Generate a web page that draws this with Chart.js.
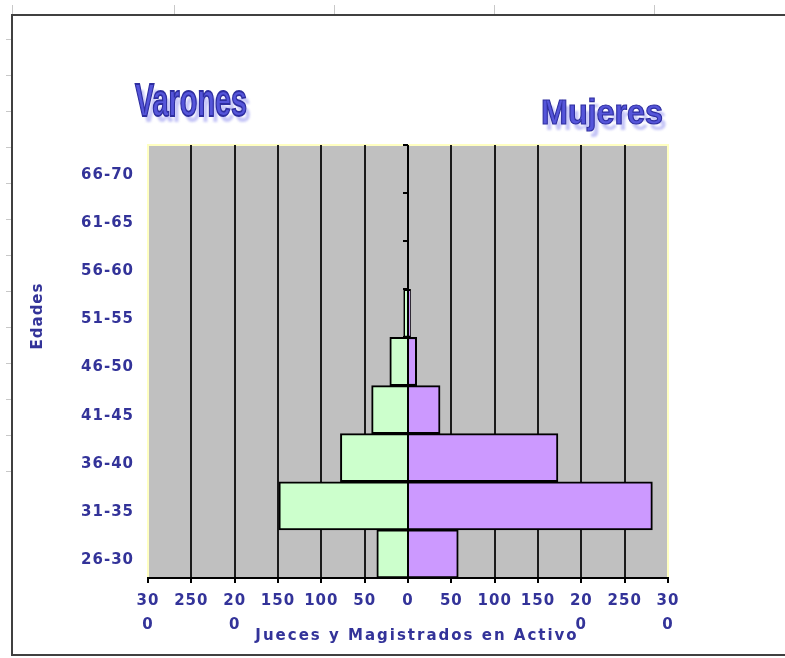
<!DOCTYPE html>
<html>
<head>
<meta charset="utf-8">
<script src="https://cdn.jsdelivr.net/npm/chart.js"></script>
<style>
body { margin: 0; background: #fff; }
</style>
</head>
<body>
<canvas id="grafica" width="785" height="658"></canvas>
<script>

// DATOS DE LA PIRÁMIDE

const edades = ['66-70','61-65','56-60','51-55','46-50','41-45','36-40','31-35','26-30'];

const varones = [0, 0, 0, 5, 21, 42, 78, 149, 36];

const mujeres = [0, 0, 0, 3, 10, 37, 173, 282, 58];

const etiquetasX = ['30\n0','250','20\n0','150','100','50','0','50','100','150','20\n0','250','30\n0'];


const azul = '#333399';
const letra = '"DejaVu Sans", Verdana, sans-serif';


// texto estirado para los rótulos Varones / Mujeres

function rotulo(ctx, texto, x, base, ancho, alto){

ctx.font = 'bold 100px "Liberation Sans Narrow", "Liberation Sans", Arial, sans-serif';
ctx.letterSpacing = '0px';

const m = ctx.measureText(texto);
const sx = ancho / m.width;
const sy = alto / m.actualBoundingBoxAscent;

// sombra
ctx.save();
ctx.filter = 'blur(0.8px)';
ctx.translate(x + 4, base + 6);
ctx.scale(sx, sy);
ctx.fillStyle = 'rgba(150,150,240,0.55)';
ctx.fillText(texto, 0, 0);
ctx.restore();

// texto principal
ctx.save();
ctx.translate(x, base);
ctx.scale(sx, sy);
ctx.fillStyle = '#5555da';
ctx.fillText(texto, 0, 0);
ctx.lineWidth = 1.1 / Math.min(sx, sy);
ctx.strokeStyle = '#2e2ea0';
ctx.strokeText(texto, 0, 0);
ctx.restore();

}


// MARCO, FONDO Y TÍTULOS

const marco = {

id: 'marco',

beforeDraw(chart){

const ctx = chart.ctx;
const a = chart.chartArea;

ctx.save();

ctx.fillStyle = '#fff';
ctx.fillRect(0, 0, chart.width, chart.height);

// marcas de la hoja
ctx.strokeStyle = '#c8c8c8';
ctx.lineWidth = 1;
ctx.beginPath();
[12, 174, 334, 494, 654].forEach(x => { ctx.moveTo(x + 0.5, 5); ctx.lineTo(x + 0.5, 15); });
for (let y = 39; y <= 471; y += 36) { ctx.moveTo(6, y + 0.5); ctx.lineTo(12, y + 0.5); }
ctx.stroke();

// borde exterior
ctx.strokeStyle = '#404040';
ctx.lineWidth = 2;
ctx.beginPath();
ctx.moveTo(chart.width, 15);
ctx.lineTo(12, 15);
ctx.lineTo(12, 655);
ctx.lineTo(chart.width, 655);
ctx.stroke();

// área de trazado
ctx.fillStyle = '#c0c0c0';
ctx.fillRect(a.left, a.top, a.right - a.left, a.bottom - a.top);
ctx.strokeStyle = '#ffffc0';
ctx.lineWidth = 2;
ctx.strokeRect(a.left, a.top, a.right - a.left, a.bottom - a.top);

ctx.restore();

// letra algo más espaciada para las etiquetas de los ejes
ctx.letterSpacing = '1px';

},

afterDatasetsDraw(chart){

const ctx = chart.ctx;
const a = chart.chartArea;
const x0 = chart.scales.x.getPixelForValue(0);
const paso = (a.bottom - a.top) / edades.length;

ctx.save();
ctx.strokeStyle = '#000';
ctx.lineWidth = 2;
ctx.beginPath();
ctx.moveTo(x0, a.top);
ctx.lineTo(x0, a.bottom);
for (let i = 0; i <= edades.length; i++) {
const y = Math.round(a.top + i * paso);
ctx.moveTo(x0 - 5, y);
ctx.lineTo(x0, y);
}
ctx.stroke();
ctx.restore();

},

afterDraw(chart){

const ctx = chart.ctx;

ctx.save();

rotulo(ctx, 'Varones', 135, 116, 112, 32);
rotulo(ctx, 'Mujeres', 541, 124, 122, 26);

ctx.fillStyle = azul;
ctx.font = 'bold 15px ' + letra;
ctx.letterSpacing = '2px';
ctx.textAlign = 'center';
ctx.textBaseline = 'alphabetic';
ctx.fillText('Jueces y Magistrados en Activo', 417, 640);

ctx.letterSpacing = '1px';
ctx.translate(42, 316);
ctx.rotate(-Math.PI / 2);
ctx.fillText('Edades', 0, 0);

ctx.restore();
ctx.letterSpacing = '0px';

}

};


// GRÁFICA

const ctx = document.getElementById('grafica');

new Chart(ctx, {

type: 'bar',

data: {

labels: edades,

datasets: [

{
label: 'Varones',
data: varones.map(v => -v),
backgroundColor: '#ccffcc',
borderColor: '#000',
borderWidth: 2
},

{
label: 'Mujeres',
data: mujeres,
backgroundColor: '#cc99ff',
borderColor: '#000',
borderWidth: 2
}

]

},

options: {

indexAxis: 'y',
responsive: false,
animation: false,
barPercentage: 1,
categoryPercentage: 1,

layout: {
padding: { top: 145, right: 117, bottom: 0, left: 0 }
},

plugins: {
legend: { display: false },
tooltip: { enabled: false }
},

scales: {

x: {
stacked: true,
min: -300,
max: 300,
afterFit: s => { s.height = 80; },
afterBuildTicks: s => { s.ticks = etiquetasX.map((t, i) => ({ value: -300 + i * 50 })); },
ticks: {
autoSkip: false,
maxRotation: 0,
padding: 6,
color: azul,
font: { family: letra, size: 15, weight: 'bold', lineHeight: 1.6 },
callback: (v, i) => etiquetasX[i].split('\n')
},
grid: {
color: c => (c.tick && Math.abs(c.tick.value) === 300) ? 'rgba(0,0,0,0)' : '#1a1a1a',
lineWidth: 2,
tickColor: '#000',
tickLength: 5
},
border: { display: true, color: '#000', width: 2 }
},

y: {
stacked: true,
afterFit: s => { s.width = 148; },
ticks: {
padding: 14,
labelOffset: 6,
color: azul,
font: { family: letra, size: 15, weight: 'bold' }
},
grid: { display: false, drawTicks: false },
border: { display: false }
}

}

},

plugins: [marco]

});

</script>
</body>
</html>
